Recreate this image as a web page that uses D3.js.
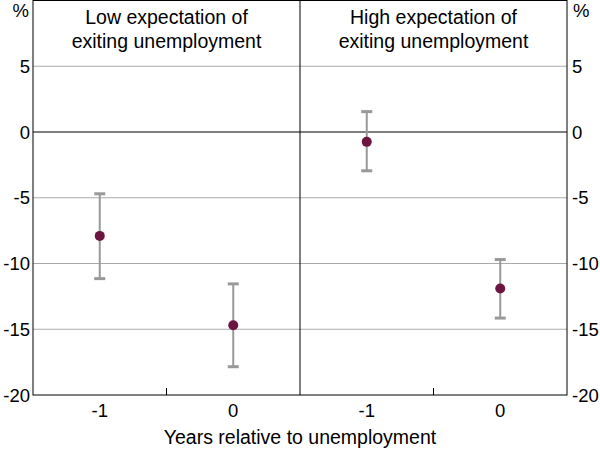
<!DOCTYPE html>
<html>
<head>
<meta charset="utf-8">
<script src="https://cdn.jsdelivr.net/npm/d3@7"></script>
<style>
  body { margin: 0; background: #fff; }
  text { font-family: "Liberation Sans", Arial, sans-serif; fill: #000; }
</style>
</head>
<body>
<script>
// Data
const panels = ['Low expectation of|exiting unemployment', 'High expectation of|exiting unemployment'];
const years = ['-1', '0'];
const estimates = [[-7.9, -14.7], [-0.75, -11.9]];
const upper = [[-4.7, -11.55], [1.55, -9.7]];
const lower = [[-11.15, -17.85], [-2.95, -14.15]];
const yTicks = [-20, -15, -10, -5, 0, 5];

const width = 600, height = 449;
const margin = {top: 0.5, bottom: 54, left: 33, right: 33};

const svg = d3.select('body').append('svg')
    .attr('width', width)
    .attr('height', height);

const y = d3.scaleLinear().domain([-20, 10]).range([height - margin.bottom, margin.top]);

const panelX = d3.scaleBand().domain(d3.range(panels.length))
    .range([margin.left, width - margin.right]);

// gridlines
svg.append('g').selectAll('line').data(yTicks.filter(d => d !== 0 && d !== -20)).join('line')
    .attr('x1', margin.left).attr('x2', width - margin.right)
    .attr('y1', d => y(d)).attr('y2', d => y(d))
    .attr('stroke', '#aaaaaa').attr('stroke-width', 1);

// zero line
svg.append('line')
    .attr('x1', margin.left).attr('x2', width - margin.right)
    .attr('y1', y(0)).attr('y2', y(0))
    .attr('stroke', '#000').attr('stroke-width', 1);

panels.forEach((title, p) => {
  const x0 = panelX(p);
  const x = d3.scaleBand().domain(years).range([x0, x0 + panelX.bandwidth()]);
  const g = svg.append('g');

  // title
  const t = g.append('text')
      .attr('x', x0 + panelX.bandwidth() / 2)
      .attr('y', 24)
      .attr('text-anchor', 'middle')
      .style('font-size', '19.5px');
  title.split('|').forEach((line, i) => {
    t.append('tspan').attr('x', x0 + panelX.bandwidth() / 2).attr('dy', i ? 24 : 0).text(line);
  });

  // middle tick on x axis
  g.append('line')
      .attr('x1', x0 + panelX.bandwidth() / 2).attr('x2', x0 + panelX.bandwidth() / 2)
      .attr('y1', y(-20)).attr('y2', y(-20) - 7)
      .attr('stroke', '#000');

  // x labels
  g.selectAll('text.xl').data(years).join('text')
      .attr('class', 'xl')
      .attr('x', d => x(d) + x.bandwidth() / 2)
      .attr('y', 417)
      .attr('text-anchor', 'middle')
      .style('font-size', '18.5px')
      .text(d => d);

  const rows = years.map((yr, i) => ({yr, est: estimates[p][i], hi: upper[p][i], lo: lower[p][i]}));
  const cx = d => x(d.yr) + x.bandwidth() / 2;

  g.selectAll('line.err').data(rows).join('line')
      .attr('x1', cx).attr('x2', cx)
      .attr('y1', d => y(d.hi)).attr('y2', d => y(d.lo))
      .attr('stroke', '#999').attr('stroke-width', 2);

  g.selectAll('rect.cap').data(rows.flatMap(d => [{x: cx(d), v: d.hi}, {x: cx(d), v: d.lo}])).join('rect')
      .attr('x', d => d.x - 5.5).attr('y', d => y(d.v) - 1.5)
      .attr('width', 11).attr('height', 3)
      .attr('fill', '#999');

  g.selectAll('circle').data(rows).join('circle')
      .attr('cx', cx).attr('cy', d => y(d.est))
      .attr('r', 5)
      .attr('fill', '#6c1540');
});

// frame and divider
svg.append('rect')
    .attr('x', margin.left).attr('y', margin.top)
    .attr('width', width - margin.left - margin.right)
    .attr('height', y(-20) - margin.top)
    .attr('fill', 'none').attr('stroke', '#000').attr('stroke-width', 1);
svg.append('line')
    .attr('x1', panelX(1)).attr('x2', panelX(1))
    .attr('y1', margin.top).attr('y2', y(-20))
    .attr('stroke', '#000');

// y tick labels both sides
svg.append('g').selectAll('text').data(yTicks).join('text')
    .attr('x', margin.left - 3).attr('y', d => y(d)).attr('dy', '0.36em')
    .attr('text-anchor', 'end').style('font-size', '18.5px')
    .text(d => d);
svg.append('g').selectAll('text').data(yTicks).join('text')
    .attr('x', width - margin.right + 5).attr('y', d => y(d)).attr('dy', '0.36em')
    .attr('text-anchor', 'start').style('font-size', '18.5px')
    .text(d => d);

svg.append('text').attr('x', margin.left - 4).attr('y', 17).attr('text-anchor', 'end')
    .style('font-size', '18.5px').text('%');
svg.append('text').attr('x', width - margin.right + 6).attr('y', 17).attr('text-anchor', 'start')
    .style('font-size', '18.5px').text('%');

// x axis title
svg.append('text').attr('x', width / 2).attr('y', 444).attr('text-anchor', 'middle')
    .style('font-size', '19.5px').text('Years relative to unemployment');
</script>
</body>
</html>
